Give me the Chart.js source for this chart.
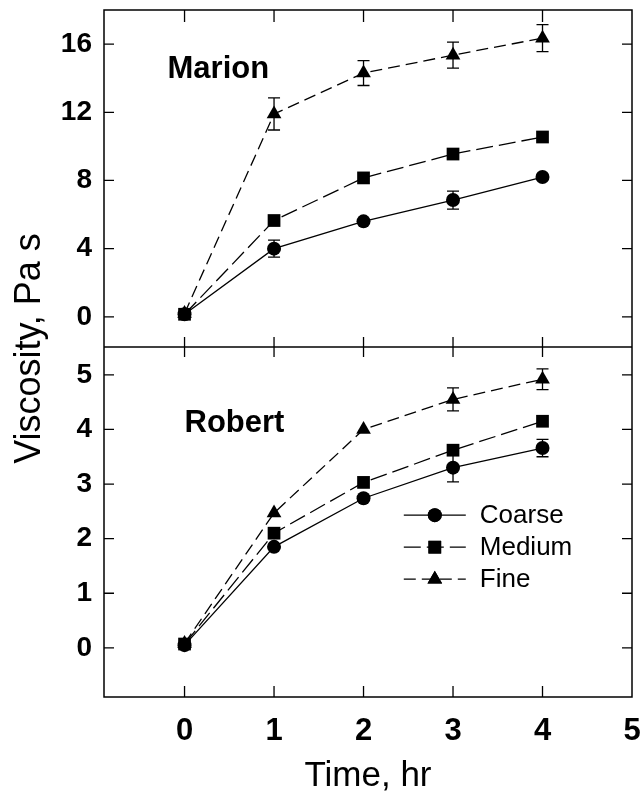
<!DOCTYPE html>
<html>
<head>
<meta charset="utf-8">
<script src="https://cdn.jsdelivr.net/npm/chart.js@4"></script>
<style>
  html, body { margin: 0; padding: 0; background: #fff; }
  #wrap { width: 641px; height: 796px; position: relative; }
</style>
</head>
<body>
<div id="wrap"><canvas id="chart-viscosity"></canvas></div>
<script>
// time axis (hr)
const hours = [0, 1, 2, 3, 4];
const xTicks = [0, 1, 2, 3, 4, 5];
const topTicks = [0, 4, 8, 12, 16];
const bottomTicks = [0, 1, 2, 3, 4, 5];

// Marion (top panel)
const marionCoarse = [0.15, 4.0, 5.6, 6.85, 8.2];
const marionCoarseErr = [0, 0.5, 0, 0.53, 0];
const marionMedium = [0.15, 5.65, 8.15, 9.55, 10.55];
const marionMediumErr = [0, 0, 0, 0, 0];
const marionFine = [0.2, 11.9, 14.3, 15.35, 16.35];
const marionFineErr = [0, 0.94, 0.73, 0.76, 0.79];

// Robert (bottom panel)
const robertCoarse = [0.05, 1.85, 2.74, 3.3, 3.66];
const robertCoarseErr = [0, 0, 0, 0.26, 0.16];
const robertMedium = [0.07, 2.1, 3.03, 3.62, 4.15];
const robertMediumErr = [0, 0, 0, 0, 0];
const robertFine = [0.08, 2.47, 4.0, 4.55, 4.92];
const robertFineErr = [0, 0, 0, 0.21, 0.19];

const FONT = "Arial, 'Liberation Sans', sans-serif";

function toPoints(vals) {
  return hours.map((h, i) => ({x: h, y: vals[i]}));
}

const styles = {
  Coarse: {pointStyle: 'circle', pointRadius: 7, borderDash: []},
  Medium: {pointStyle: 'rect', pointRadius: 9, borderDash: [17, 6]},
  Fine: {pointStyle: 'triangle', pointRadius: 8.5, borderDash: [12, 6]},
};

function makeDataset(name, vals, err, axis) {
  const st = styles[name];
  return {
    label: name,
    data: toPoints(vals),
    err: err,
    yAxisID: axis,
    borderColor: '#000',
    backgroundColor: '#000',
    borderWidth: 1.3,
    borderDash: st.borderDash,
    pointStyle: st.pointStyle,
    pointRadius: st.pointRadius,
    pointBackgroundColor: '#000',
    pointBorderColor: '#000',
    pointBorderWidth: 0,
    showLine: true,
    inLegend: axis == 'yBot',
  };
}

// error bars
const errorBars = {
  id: 'errorBars',
  afterDatasetsDraw(chart) {
    const ctx = chart.ctx;
    ctx.save();
    ctx.strokeStyle = '#000';
    ctx.lineWidth = 1.3;
    ctx.setLineDash([]);
    chart.data.datasets.forEach((ds, di) => {
      const meta = chart.getDatasetMeta(di);
      const yScale = chart.scales[ds.yAxisID];
      ds.data.forEach((p, i) => {
        const e = ds.err[i];
        if (!e) return;
        const x = meta.data[i].x;
        const y1 = yScale.getPixelForValue(p.y + e);
        const y2 = yScale.getPixelForValue(p.y - e);
        ctx.beginPath();
        ctx.moveTo(x, y1); ctx.lineTo(x, y2);
        ctx.moveTo(x - 6, y1); ctx.lineTo(x + 6, y1);
        ctx.moveTo(x - 6, y2); ctx.lineTo(x + 6, y2);
        ctx.stroke();
      });
    });
    ctx.restore();
  }
};

// frame, inward ticks, panel names, legend, y title
const decorations = {
  id: 'decorations',
  afterDraw(chart) {
    const ctx = chart.ctx;
    const area = chart.chartArea;
    const xs = chart.scales.x;
    const yt = chart.scales.yTop;
    const yb = chart.scales.yBot;
    const mid = yt.bottom;
    ctx.save();
    ctx.strokeStyle = '#000';
    ctx.lineWidth = 1.5;
    ctx.setLineDash([]);
    ctx.strokeRect(area.left, area.top, area.right - area.left, area.bottom - area.top);
    ctx.beginPath();
    ctx.moveTo(area.left, mid); ctx.lineTo(area.right, mid);
    ctx.stroke();

    ctx.lineWidth = 1.3;
    ctx.beginPath();
    xTicks.forEach(v => {
      const x = xs.getPixelForValue(v);
      if (x >= area.right - 1) return;
      ctx.moveTo(x, area.top); ctx.lineTo(x, area.top + 12);
      ctx.moveTo(x, mid - 10); ctx.lineTo(x, mid + 10);
      ctx.moveTo(x, area.bottom); ctx.lineTo(x, area.bottom - 11);
    });
    topTicks.forEach(v => {
      const y = yt.getPixelForValue(v);
      ctx.moveTo(area.left, y); ctx.lineTo(area.left + 10, y);
      ctx.moveTo(area.right, y); ctx.lineTo(area.right - 10, y);
    });
    bottomTicks.forEach(v => {
      const y = yb.getPixelForValue(v);
      ctx.moveTo(area.left, y); ctx.lineTo(area.left + 10, y);
      ctx.moveTo(area.right, y); ctx.lineTo(area.right - 10, y);
    });
    ctx.stroke();

    // panel names
    ctx.fillStyle = '#000';
    ctx.font = 'bold 31px ' + FONT;
    ctx.textAlign = 'left';
    ctx.textBaseline = 'alphabetic';
    ctx.fillText('Marion', xs.getPixelForValue(-0.19), yt.getPixelForValue(14.0));
    ctx.fillText('Robert', xs.getPixelForValue(0), yb.getPixelForValue(3.96));

    // legend
    const lx = xs.getPixelForValue(2.45);
    let ly = yb.getPixelForValue(2.43);
    ctx.font = '26px ' + FONT;
    ctx.textBaseline = 'middle';
    chart.data.datasets.forEach(ds => {
      if (!ds.inLegend) return;
      ctx.lineWidth = 1.3;
      ctx.setLineDash(ds.borderDash);
      ctx.beginPath();
      ctx.moveTo(lx, ly); ctx.lineTo(lx + 62, ly);
      ctx.stroke();
      ctx.setLineDash([]);
      Chart.helpers.drawPoint(ctx, {pointStyle: ds.pointStyle, radius: ds.pointRadius, rotation: 0, borderWidth: 0}, lx + 31, ly);
      ctx.fill();
      ctx.fillText(ds.label, lx + 76, ly + 1);
      ly += 32;
    });

    // y title shared by both panels
    ctx.font = '36px ' + FONT;
    ctx.textAlign = 'center';
    ctx.textBaseline = 'middle';
    ctx.translate(30, (area.top + area.bottom) / 2 - 5);
    ctx.rotate(-Math.PI / 2);
    ctx.fillText('Viscosity, Pa s', 0, 0);
    ctx.restore();
  }
};

function fixedTicks(list) {
  return scale => { scale.ticks = list.map(v => ({value: v})); };
}

function yAxis(min, max, weight, ticks) {
  return {
    type: 'linear',
    position: 'left',
    stack: 'panels',
    stackWeight: weight,
    min: min,
    max: max,
    afterBuildTicks: fixedTicks(ticks),
    afterFit: s => {
      s.width = 104;
      s.paddingTop = 0;
      s.paddingBottom = 0;
    },
    grid: {display: false, drawTicks: false},
    border: {display: false},
    ticks: {
      color: '#000',
      padding: 12,
      font: {family: FONT, size: 28, weight: 'bold'},
    },
  };
}

const datasets = [
  makeDataset('Coarse', marionCoarse, marionCoarseErr, 'yTop'),
  makeDataset('Medium', marionMedium, marionMediumErr, 'yTop'),
  makeDataset('Fine', marionFine, marionFineErr, 'yTop'),
  makeDataset('Coarse', robertCoarse, robertCoarseErr, 'yBot'),
  makeDataset('Medium', robertMedium, robertMediumErr, 'yBot'),
  makeDataset('Fine', robertFine, robertFineErr, 'yBot'),
];

const ctx = document.getElementById('chart-viscosity').getContext('2d');
new Chart(ctx, {
  type: 'scatter',
  data: {datasets: datasets},
  options: {
    responsive: true,
    maintainAspectRatio: false,
    animation: false,
    layout: {padding: {top: 10, right: 9, left: 0, bottom: 0}},
    plugins: {legend: {display: false}, tooltip: {enabled: false}},
    scales: {
      x: {
        type: 'linear',
        position: 'bottom',
        min: -0.9,
        max: 5,
        afterBuildTicks: fixedTicks(xTicks),
        afterFit: s => {
          s.height = 99;
          s.paddingLeft = 0;
          s.paddingRight = 0;
        },
        grid: {display: false, drawTicks: false},
        border: {display: false},
        ticks: {
          color: '#000',
          padding: 16,
          maxRotation: 0,
          font: {family: FONT, size: 31, weight: 'bold'},
        },
        title: {
          display: true,
          text: 'Time, hr',
          color: '#000',
          padding: {top: 0, bottom: 0},
          font: {family: FONT, size: 35, lineHeight: 1.1},
        },
      },
      // stacked panels: later entry ends up on top
      yBot: yAxis(-0.9, 5.51, 350, bottomTicks),
      yTop: yAxis(-1.77, 18, 337, topTicks),
    },
  },
  plugins: [errorBars, decorations],
});
</script>
</body>
</html>
